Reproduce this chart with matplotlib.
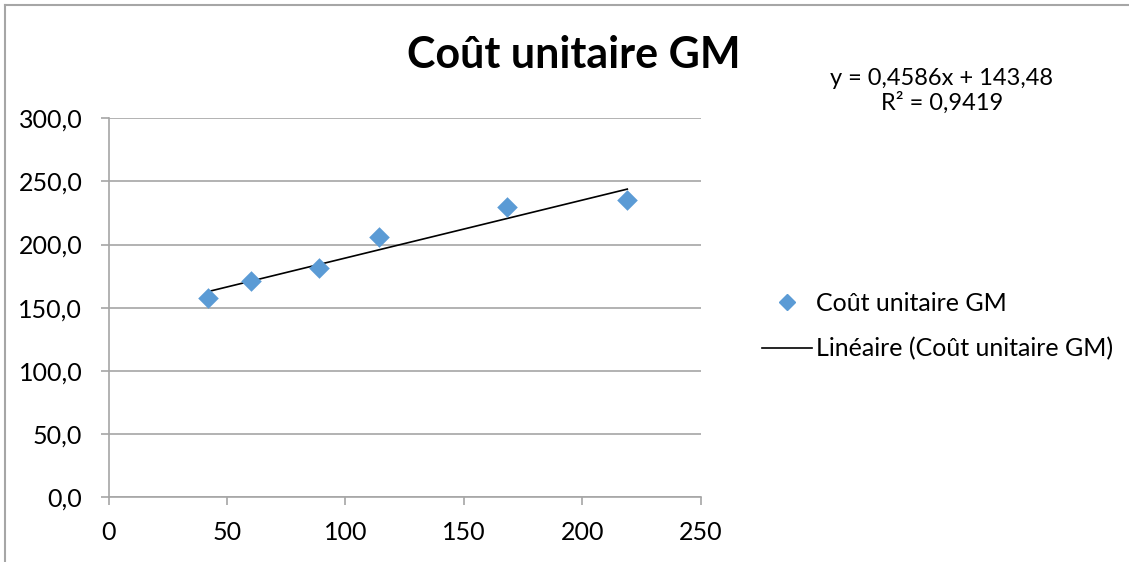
import numpy as np
import matplotlib
matplotlib.use("Agg")
import matplotlib.pyplot as plt
from matplotlib.lines import Line2D

plt.rcParams['font.family'] = ['Lato', 'DejaVu Sans']

# données
volumes = [42.1, 60.1, 88.8, 114.1, 168.1, 219.0]
couts = [157.4, 171.4, 181.2, 206.2, 229.5, 235.3]
pente = 0.4586
ordonnee = 143.48
r2 = 0.9419
y_ticks = [0, 50, 100, 150, 200, 250, 300]
x_ticks = [0, 50, 100, 150, 200, 250]

bleu = '#5B9BD5'
gris = '#A6A6A6'

fig = plt.figure(figsize=(11.29, 5.62), dpi=100)
ax = fig.add_axes([108.7 / 1129, 1 - 497 / 562, 592 / 1129, (497 - 118.3) / 562])

ax.scatter(volumes, couts, marker='D', s=110, color=bleu, zorder=3, linewidths=0)
xs = np.array([min(volumes), max(volumes)])
ax.plot(xs, pente * xs + ordonnee, color='black', linewidth=1.2, zorder=2)

ax.set_xlim(0, 250)
ax.set_ylim(0, 300)
ax.set_xticks(x_ticks)
ax.set_yticks(y_ticks)
ax.set_xticklabels([str(v) for v in x_ticks])
ax.set_yticklabels([f"{v:.1f}".replace('.', ',') for v in y_ticks])
ax.grid(axis='y', color=gris, linewidth=1.2)
ax.set_axisbelow(True)
for s in ['top', 'right']:
    ax.spines[s].set_visible(False)
for s in ['left', 'bottom']:
    ax.spines[s].set_color(gris)
    ax.spines[s].set_linewidth(1.2)
ax.tick_params(axis='both', colors=gris, length=6, width=1.2, labelsize=18,
               labelcolor='black')
ax.tick_params(axis='x', pad=11)
ax.tick_params(axis='y', pad=13)

fig.text(574 / 1129, 1 - 55 / 562, "Coût unitaire GM", ha='center', va='center',
         fontsize=31, fontweight='bold')
fig.text(942 / 1129, 1 - 79 / 562, f"y = {pente}x + {ordonnee}".replace('.', ','),
         ha='center', va='center', fontsize=17)
fig.text(942 / 1129, 1 - 103 / 562, f"R² = {r2}".replace('.', ','),
         ha='center', va='center', fontsize=17)

handles = [Line2D([], [], marker='D', color=bleu, linestyle='none', markersize=8),
           Line2D([], [], color='black', linewidth=1.2)]
fig.legend(handles, ["Coût unitaire GM", "Linéaire (Coût unitaire GM)"],
           loc='center left', bbox_to_anchor=(762 / 1129, 1 - 326 / 562),
           frameon=False, fontsize=18, handlelength=2.0, handletextpad=0.15,
           labelspacing=0.9, borderpad=0, borderaxespad=0)

# cadre du graphique
fig.add_artist(Line2D([5 / 1129, 5 / 1129], [0, 1 - 5 / 562], color=gris,
                      linewidth=1.5, transform=fig.transFigure))
fig.add_artist(Line2D([5 / 1129, 1], [1 - 5 / 562, 1 - 5 / 562], color=gris,
                      linewidth=1.5, transform=fig.transFigure))

fig.savefig("out.png", dpi=100)
